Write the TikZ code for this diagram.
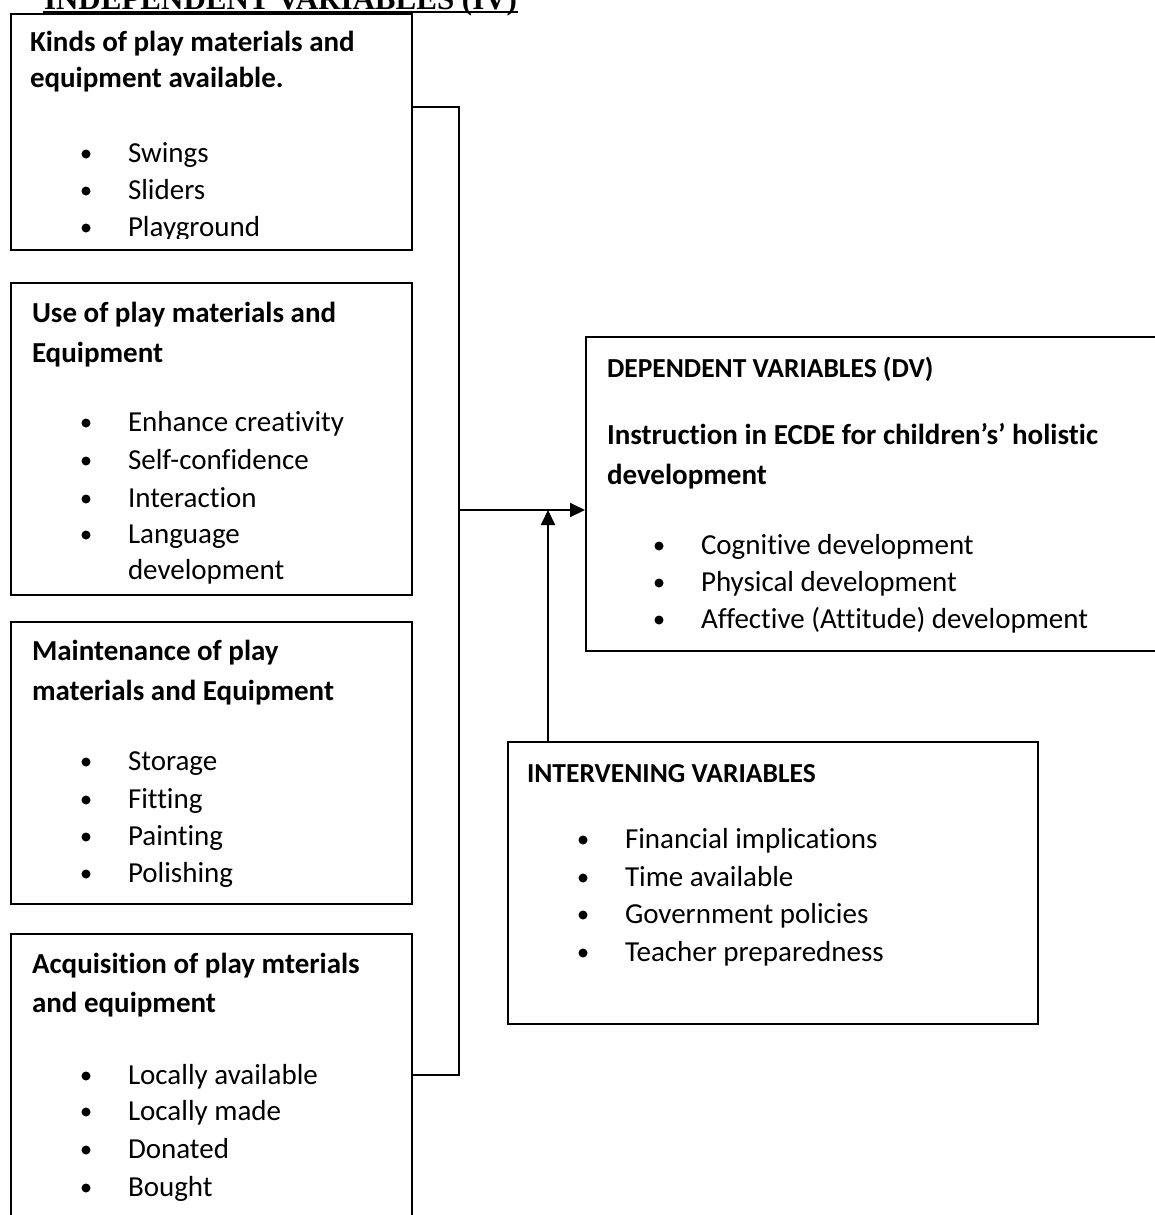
\documentclass[tikz,border=0pt]{standalone}
\usepackage{fontspec}
\setmainfont{Carlito}[Ligatures={NoCommon}]
\newfontfamily\titlefont{Liberation Serif}
\usetikzlibrary{arrows.meta}
\newcommand\myitem[4]{%
  \node[dot] (#1d) at (#2,#3-8) {};
  \node[txt] (#1) at (#2+41,#3) {#4};}
\begin{document}
\begin{tikzpicture}[x=1pt,y=-1pt, line width=2pt,
  box/.style={draw, line width=2pt, anchor=north west, inner sep=0pt},
  txt/.style={anchor=base west, inner sep=0pt, font=\fontsize{29}{34}\selectfont},
  hd/.style={anchor=base west, inner sep=0pt, font=\fontsize{29}{34}\selectfont\bfseries},
  caps/.style={anchor=base west, inner sep=0pt, font=\fontsize{27.5}{33}\selectfont\bfseries},
  ttl/.style={anchor=base west, inner sep=0pt, font=\fontsize{31}{36}\selectfont\titlefont\bfseries},
  dot/.style={circle, fill, inner sep=0pt, minimum size=9pt},
  arr/.style={-{Triangle[length=15pt,width=14pt]}}]
\useasboundingbox (0,0) rectangle (1155,1215);
% title
\node[ttl] (title) at (43,10) {INDEPENDENT VARIABLES (IV)};
\path (title.base west) ++(0,2) coordinate (ul1) (title.base east) ++(0,2) coordinate (ul2);
\draw[line width=1.5pt] (ul1) -- (ul2);
% boxes
\node[box, minimum width=401pt, minimum height=236pt] (b1) at (10,13) {};
\node[box, minimum width=401pt, minimum height=312pt] (b2) at (10,282) {};
\node[box, minimum width=401pt, minimum height=282pt] (b3) at (10,621) {};
\node[box, minimum width=401pt, minimum height=320pt] (b4) at (10,933) {};
\node[box, minimum width=700pt, minimum height=314pt] (dv) at (585,336) {};
\node[box, minimum width=530pt, minimum height=282pt] (iv) at (507,741) {};
% box 1
\begin{scope}
\clip (10,13) rectangle (411,238);
\node[hd] (h1a) at (29,52) {Kinds of play materials and};
\node[hd] (h1b) at (29,88) {equipment available.};
\myitem{i1a}{86}{162}{Swings}
\myitem{i1b}{86}{199}{Sliders}
\myitem{i1c}{86}{236}{Playground}
\end{scope}
% box 2
\node[hd] (h2a) at (31,322) {Use of play materials and};
\node[hd] (h2b) at (31,362) {Equipment};
\myitem{i2a}{86}{431}{Enhance creativity}
\myitem{i2b}{86}{469}{Self-confidence}
\myitem{i2c}{86}{507}{Interaction}
\myitem{i2d}{86}{543}{Language}
\node[txt] (i2e) at (127,579) {development};
% box 3
\node[hd] (h3a) at (31,660) {Maintenance of play};
\node[hd] (h3b) at (31,700) {materials and Equipment};
\myitem{i3a}{86}{770}{Storage}
\myitem{i3b}{86}{808}{Fitting}
\myitem{i3c}{86}{845}{Painting}
\myitem{i3d}{86}{882}{Polishing}
% box 4
\node[hd] (h4a) at (31,973) {Acquisition of play mterials};
\node[hd] (h4b) at (31,1012) {and equipment};
\myitem{i4a}{86}{1084}{Locally available}
\myitem{i4b}{86}{1120}{Locally made}
\myitem{i4c}{86}{1158}{Donated}
\myitem{i4d}{86}{1196}{Bought}
% dependent
\node[caps] (hda) at (606,377) {DEPENDENT VARIABLES (DV)};
\node[hd] (hdb) at (606,444) {Instruction in ECDE for children’s’ holistic};
\node[hd] (hdc) at (606,484) {development};
\myitem{ida}{659}{554}{Cognitive development}
\myitem{idb}{659}{591}{Physical development}
\myitem{idc}{659}{628}{Affective (Attitude) development}
% intervening
\node[caps] (hia) at (526,782) {INTERVENING VARIABLES};
\myitem{iia}{583}{848}{Financial implications}
\myitem{iib}{583}{886}{Time available}
\myitem{iic}{583}{923}{Government policies}
\myitem{iid}{583}{961}{Teacher preparedness}
% connectors
\coordinate (jt) at (459,107);
\coordinate (jb) at (459,1075);
\coordinate (jm) at (459,510);
\coordinate (va) at (548,510);
\draw (b1.east |- jt) -- (jt) -- (jb) -- (b4.east |- jb);
\draw[arr] (jm) -- (dv.west |- jm);
\draw[arr] (iv.north -| va) -- (va);
\end{tikzpicture}
\end{document}
